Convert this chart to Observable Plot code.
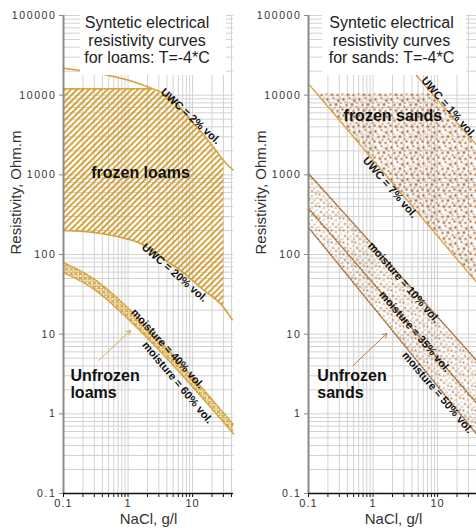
<!DOCTYPE html>
<html><head><meta charset="utf-8">
<script src="https://cdn.jsdelivr.net/npm/d3@7"></script>
<script src="https://cdn.jsdelivr.net/npm/@observablehq/plot@0.6"></script>
<style>
body{margin:0;background:#fff;font-family:"Liberation Sans",Arial,sans-serif;}
#wrap{position:relative;width:476px;height:531px;overflow:hidden;background:#fff}
.panel{position:absolute;top:0;width:238px;height:531px}
.panel svg{max-width:none !important}
.title{position:absolute;top:12px;height:63px;background:#fff;color:#222;font-size:16px;line-height:17.5px;text-align:center;padding-top:2px;box-sizing:border-box;white-space:nowrap}
</style></head><body>
<div id="wrap">
<div id="left" class="panel" style="left:0"></div>
<div id="right" class="panel" style="left:245px"></div>
<div class="title" style="left:80px;width:146px;padding-right:12px">Syntetic electrical<br>resistivity curves<br>for loams: T=-4*C</div>
<div class="title" style="left:322px;width:144px;padding-right:5px">Syntetic electrical<br>resistivity curves<br>for sands: T=-4*C</div>
</div>
<script>
// ---------- tick values ----------
const xMajor = [0.1, 1, 10];
const yMajor = [0.1, 1, 10, 100, 1000, 10000, 100000];
const minorSteps = [1, 2, 3, 4, 5, 6, 7, 8, 9];

// ---------- loams (left panel) ----------
const loamUwc2X  = [0.1, 0.5, 1.74, 4.56, 10.4, 21.2, 30, 43];
const loamUwc2Y  = [21700, 17700, 13300, 9120, 4430, 2210, 1520, 1135];
const loamUwc20X = [0.1, 0.29, 0.77, 1.56, 3.19, 6.5, 13.3, 30, 42];
const loamUwc20Y = [200, 189, 164, 137, 92, 63, 38.5, 21.8, 14.8];
const loamFrozenCap = 12000;
const loamFrozenMaxX = 30;
const loamMoistX  = [0.1, 0.29, 0.98, 3.19, 10.4, 43];
const loamMoist40 = [79, 50, 21.6, 8.1, 2.8, 0.73];
const loamMoist60 = [59, 37, 15.7, 6.0, 2.1, 0.56];

// ---------- sands (right panel) ----------
const sandUwc1X = [4.7, 40];
const sandUwc1Y = [17700, 2370];
const sandUwc7X = [0.1, 40];
const sandUwc7Y = [13900, 45];
const sandFrozenCap = 10500;
const sandMoistX  = [0.1, 40];
const sandMoist10 = [1040, 4.7];
const sandMoist35 = [380, 1.37];
const sandMoist50 = [218, 0.56];

// ---------- annotations ----------
const loamLabels = [
  {text: "UWC = 2% vol.", x: 9.3, y: 5420, angle: 42.5},
  {text: "UWC = 20% vol.", x: 5.26, y: 59, angle: 41},
  {text: "moisture = 40% vol.", x: 4.09, y: 6.6, angle: 48},
  {text: "moisture = 60% vol.", x: 5.85, y: 2.47, angle: 50}
];
const loamBig = [{text: "frozen loams", x: 1.56, y: 1070}];
const loamUnfrozen = [{text: "Unfrozen\nloams", x: 0.128, y: 2.36}];
const loamArrow = [{x1: 0.35, y1: 4.66, x2: 1.09, y2: 11.1}];

const sandLabels = [
  {text: "UWC = 1% vol.", x: 14.8, y: 7030, angle: 48.7},
  {text: "UWC = 7% vol.", x: 1.83, y: 695, angle: 49},
  {text: "moisture = 10% vol.", x: 3.0, y: 44.5, angle: 49},
  {text: "moisture = 35% vol.", x: 4.43, y: 10.8, angle: 49.4},
  {text: "moisture = 50% vol.", x: 10.0, y: 1.85, angle: 49.6}
];
const sandBig = [{text: "frozen sands", x: 2.03, y: 5570}];
const sandUnfrozen = [{text: "Unfrozen\nsands", x: 0.137, y: 2.36}];
const sandArrow = [{x1: 0.49, y1: 4.03, x2: 1.64, y2: 10.2}];

// ---------- helpers ----------
const FONT = '"Liberation Sans", Arial, Helvetica, sans-serif';
const GOLD = "#d4a035", BROWN = "#a8703a", SANDUWC = "#d99c3c";
const DASH = "1.3,1.6";
const zip = (xs, ys) => xs.map((x, i) => ({x, y: ys[i]}));
const L = Math.log10;
function capped(pts, cap) {
  const out = [];
  pts.forEach((p, i) => {
    if (i > 0) {
      const q = pts[i - 1];
      if ((q.y - cap) * (p.y - cap) < 0) {
        const t = (L(cap) - L(q.y)) / (L(p.y) - L(q.y));
        out.push({x: Math.pow(10, L(q.x) + t * (L(p.x) - L(q.x))), y: cap});
      }
    }
    out.push({x: p.x, y: Math.min(p.y, cap)});
  });
  return out;
}
function crossX(pts, cap) {
  const c = capped(pts, cap).filter(p => p.y === cap);
  return c[c.length - 1].x;
}
const xGrid = xMajor.flatMap(d => minorSteps.map(k => d * k)).filter(v => v <= 43.001);
const yGrid = yMajor.slice(0, -1).flatMap(d => minorSteps.map(k => d * k)).concat([yMajor[yMajor.length - 1]]);
const fmtX = d => xMajor.includes(d) ? String(d) : "";

// ---------- derived geometry ----------
const loamUwc2 = zip(loamUwc2X, loamUwc2Y);
const loamUwc20 = zip(loamUwc20X, loamUwc20Y);
const loamTop = capped(loamUwc2, loamFrozenCap).filter(p => p.x <= loamFrozenMaxX);
const loamFrozenPoly = loamTop.concat(loamUwc20.filter(p => p.x <= loamFrozenMaxX).reverse());
const loamCapLine = loamTop.filter(p => p.y === loamFrozenCap);
const loamBand = loamMoistX.map((x, i) => ({x, y1: loamMoist40[i], y2: loamMoist60[i]}));

const sandUwc1 = zip(sandUwc1X, sandUwc1Y);
const sandUwc7 = zip(sandUwc7X, sandUwc7Y);
const x7 = crossX(sandUwc7, sandFrozenCap);
const x1 = Math.pow(10, L(sandUwc1X[0]) + (L(sandFrozenCap) - L(sandUwc1Y[0])) / (L(sandUwc1Y[1]) - L(sandUwc1Y[0])) * (L(sandUwc1X[1]) - L(sandUwc1X[0])));
const sandFrozenPoly = [
  {x: x7, y: sandFrozenCap}, {x: x1, y: sandFrozenCap},
  sandUwc1[sandUwc1.length - 1], sandUwc7[sandUwc7.length - 1]
];
const sand10 = zip(sandMoistX, sandMoist10);
const sand35 = zip(sandMoistX, sandMoist35);
const sand50 = zip(sandMoistX, sandMoist50);
const sandBandPoly = sand10.concat(sand50.slice().reverse());

// ---------- common ----------
function common() {
  return {
    width: 238, height: 531, marginLeft: 63, marginRight: 5, marginTop: 15, marginBottom: 38,
    style: {fontFamily: FONT, fontSize: "11px", background: "transparent", color: "#333", maxWidth: "none"},
    x: {type: "log", domain: [0.1, 43], ticks: xGrid, tickFormat: fmtX, tickSize: 4, tickPadding: 2, label: null},
    y: {type: "log", domain: [0.1, 100000], ticks: yMajor, tickFormat: d => String(d), tickSize: 4, tickPadding: 3, label: null}
  };
}
function gridMarks() {
  return [
    Plot.ruleX(xGrid, {stroke: "#d2d2d2", strokeWidth: 1}),
    Plot.ruleY(yGrid, {stroke: "#d2d2d2", strokeWidth: 1})
  ];
}
function frameMarks() {
  return [
    Plot.ruleX([xMajor[0]], {stroke: "#8a8a8a", strokeWidth: 2}),
    Plot.ruleY([yMajor[0]], {stroke: "#111", strokeWidth: 1.5}),
    Plot.text(["NaCl, g/l"], {text: d => d, frameAnchor: "bottom", dy: 30, fontSize: 15, fill: "#333"}),
    Plot.text(["Resistivity, Ohm.m"], {text: d => d, frameAnchor: "left", dx: -47, rotate: -90, fontSize: 15, fill: "#333"})
  ];
}
function labelMarks(labels, big, unfrozen, arrow, arrowColor) {
  return [
    Plot.arrow(arrow, {x1: "x1", y1: "y1", x2: "x2", y2: "y2", stroke: arrowColor, strokeWidth: 1, headLength: 7}),
    Plot.text(labels, {x: "x", y: "y", text: "text", rotate: d => d.angle, fontSize: 11, fontWeight: "bold", fill: "#111"}),
    Plot.text(big, {x: "x", y: "y", text: "text", fontSize: 16, fontWeight: "bold", fill: "#111"}),
    Plot.text(unfrozen, {x: "x", y: "y", text: "text", fontSize: 16, fontWeight: "bold", fill: "#111", textAnchor: "start", lineHeight: 1.06})
  ];
}
function finish(svg, defs) {
  const s = d3.select(svg);
  svg.style.maxWidth = "none";
  s.insert("defs", ":first-child").html(defs);
  s.selectAll('[aria-label^="y-axis"] text').style("letter-spacing", "1.6px").style("font-size", "10.5px");
  s.selectAll('[aria-label^="x-axis"] text').style("letter-spacing", "1.1px");
  s.selectAll('[aria-label^="y-axis"] line, [aria-label^="y-axis"] path').style("stroke", "#8a8a8a");
  s.selectAll('[aria-label^="x-axis"] line, [aria-label^="x-axis"] path').style("stroke", "#111");
  return svg;
}

// ---------- left plot ----------
const left = Plot.plot({
  ...common(),
  marks: [
    ...gridMarks(),
    Plot.line(loamFrozenPoly, {x: "x", y: "y", fill: "url(#hatchL)", stroke: "none"}),
    Plot.areaY(loamBand, {x: "x", y1: "y1", y2: "y2", fill: "url(#crossL)", curve: "monotone-x"}),
    Plot.line(loamCapLine, {x: "x", y: "y", stroke: GOLD, strokeWidth: 1.7, strokeDasharray: DASH}),
    Plot.line(loamUwc2, {x: "x", y: "y", stroke: GOLD, strokeWidth: 1.7, strokeDasharray: DASH, curve: "monotone-x"}),
    Plot.line(loamUwc20, {x: "x", y: "y", stroke: GOLD, strokeWidth: 1.7, strokeDasharray: DASH, curve: "monotone-x"}),
    Plot.line(zip(loamMoistX, loamMoist40), {x: "x", y: "y", stroke: GOLD, strokeWidth: 1.5, strokeDasharray: DASH, curve: "monotone-x"}),
    Plot.line(zip(loamMoistX, loamMoist60), {x: "x", y: "y", stroke: GOLD, strokeWidth: 1.5, strokeDasharray: DASH, curve: "monotone-x"}),
    ...frameMarks(),
    ...labelMarks(loamLabels, loamBig, loamUnfrozen, loamArrow, "#d8a850")
  ]
});
finish(left, `
<pattern id="hatchL" patternUnits="userSpaceOnUse" width="4.3" height="4.3" patternTransform="rotate(45)">
  <rect x="0" y="0" width="1.9" height="4.3" fill="${GOLD}"/>
</pattern>
<pattern id="crossL" patternUnits="userSpaceOnUse" width="4.6" height="4.6">
  <path d="M0.5,0.5L4.1,4.1M4.1,0.5L0.5,4.1" stroke="${GOLD}" stroke-width="1.35" fill="none"/>
</pattern>`);
document.getElementById("left").appendChild(left);

// ---------- right plot ----------
const right = Plot.plot({
  ...common(),
  marks: [
    ...gridMarks(),
    Plot.line(sandFrozenPoly, {x: "x", y: "y", fill: "url(#dotsA)", stroke: "none"}),
    Plot.line(sandBandPoly, {x: "x", y: "y", fill: "url(#dotsB)", stroke: "none"}),
    Plot.line(sandUwc1, {x: "x", y: "y", stroke: SANDUWC, strokeWidth: 1.5, strokeDasharray: DASH}),
    Plot.line(sandUwc7, {x: "x", y: "y", stroke: SANDUWC, strokeWidth: 1.5, strokeDasharray: DASH}),
    Plot.line(sand10, {x: "x", y: "y", stroke: BROWN, strokeWidth: 1.5, strokeDasharray: DASH}),
    Plot.line(sand35, {x: "x", y: "y", stroke: BROWN, strokeWidth: 1.5, strokeDasharray: DASH}),
    Plot.line(sand50, {x: "x", y: "y", stroke: BROWN, strokeWidth: 1.5, strokeDasharray: DASH}),
    ...frameMarks(),
    ...labelMarks(sandLabels, sandBig, sandUnfrozen, sandArrow, "#b08050")
  ]
});
finish(right, `
<pattern id="dotsA" patternUnits="userSpaceOnUse" width="16" height="16">
  <g fill="#b07540">
  <circle cx="2" cy="3" r="1.4"/><circle cx="8" cy="1.5" r="1.1"/><circle cx="13" cy="4" r="1.5"/>
  <circle cx="5" cy="8.5" r="1.2"/><circle cx="10.5" cy="8" r="1.5"/><circle cx="15" cy="10.5" r="1.1"/>
  <circle cx="1" cy="13" r="1.3"/><circle cx="6.5" cy="14" r="1.5"/><circle cx="12" cy="14.5" r="1.2"/>
  <circle cx="9" cy="11.5" r="0.9"/><circle cx="4" cy="5.5" r="0.8"/><circle cx="15.5" cy="6.5" r="0.9"/>
  <circle cx="14.5" cy="1" r="0.7"/><circle cx="10.5" cy="3" r="0.6"/><circle cx="2.5" cy="10.5" r="0.6"/>
  <circle cx="7.5" cy="6" r="0.6"/>
  </g>
  <g fill="#d6b095"><circle cx="5.5" cy="11.5" r="0.5"/><circle cx="12.5" cy="11.5" r="0.5"/><circle cx="8.5" cy="4" r="0.5"/><circle cx="3.5" cy="15.5" r="0.5"/></g>
</pattern>
<pattern id="dotsB" patternUnits="userSpaceOnUse" width="12" height="12">
  <g fill="#b07540">
  <circle cx="2" cy="2" r="1"/><circle cx="6.5" cy="3.5" r="0.8"/><circle cx="10.5" cy="1.5" r="0.9"/>
  <circle cx="3.5" cy="7.5" r="1.1"/><circle cx="9" cy="8" r="0.8"/><circle cx="1" cy="10.5" r="0.7"/>
  <circle cx="6.5" cy="10.5" r="1"/><circle cx="11.5" cy="5.5" r="0.6"/><circle cx="11" cy="11" r="0.6"/>
  </g>
  <g fill="#d6b095"><circle cx="4.5" cy="4.5" r="0.5"/><circle cx="8.5" cy="11.5" r="0.5"/><circle cx="1" cy="5" r="0.4"/><circle cx="7.5" cy="6" r="0.4"/></g>
</pattern>`);
document.getElementById("right").appendChild(right);
</script>
</body></html>
